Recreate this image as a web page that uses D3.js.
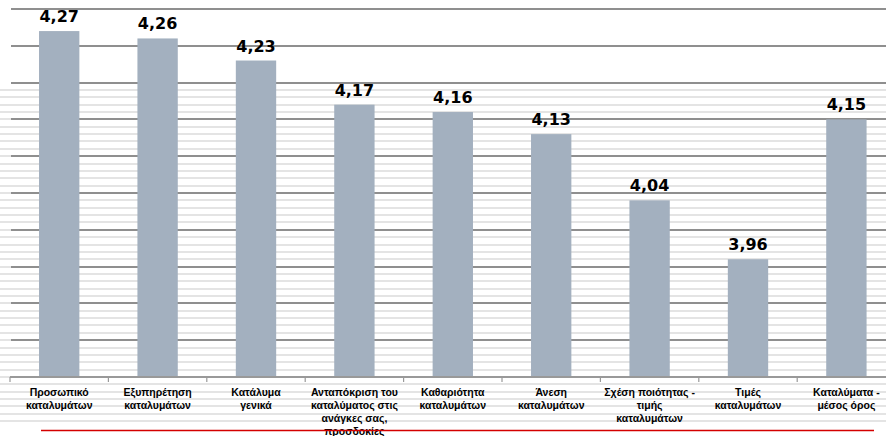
<!DOCTYPE html>
<html>
<head>
<meta charset="utf-8">
<script src="https://cdn.jsdelivr.net/npm/d3@7"></script>
<style>
  body { margin: 0; background: #fff; }
  svg { display: block; }
</style>
</head>
<body>
<div id="chart"></div>
<script>
// κατηγορίες (γραμμές κειμένου ανά κατηγορία)
var categories = [
  ["Προσωπικό", "καταλυμάτων"],
  ["Εξυπηρέτηση", "καταλυμάτων"],
  ["Κατάλυμα", "γενικά"],
  ["Ανταπόκριση του", "καταλύματος στις", "ανάγκες σας,", "προσδοκίες"],
  ["Καθαριότητα", "καταλυμάτων"],
  ["Άνεση", "καταλυμάτων"],
  ["Σχέση ποιότητας -", "τιμής", "καταλυμάτων"],
  ["Τιμές", "καταλυμάτων"],
  ["Καταλύματα -", "μέσος όρος"]
];
var values = [4.27, 4.26, 4.23, 4.17, 4.16, 4.13, 4.04, 3.96, 4.15];
var yDomain = [3.8, 4.3];
var yStep = 0.05;

var width = 886, height = 436;
var svg = d3.select("#chart").append("svg")
  .attr("width", width).attr("height", height);

var keys = categories.map(function(d, i){ return i; });
var x = d3.scaleBand().domain(keys).range([10, 10 + 9 * 98.4])
  .paddingInner(0.59).paddingOuter(0.295);
var y = d3.scaleLinear().domain(yDomain).range([377, 9]);

var gr = d3.formatLocale({decimal: ",", thousands: ".", grouping: [3], currency: ["€", ""]});
var fmt = gr.format(".2f");

// φόντο με λεπτές γραμμές (στρογγυλεμένες για καθαρή απόδοση)
var stripes = d3.range(0, 60).map(function(i){ return 3.6 + i * 0.01; })
  .filter(function(v){ return y(v) > -2 && y(v) < 428; });
svg.append("g").selectAll("rect").data(stripes).enter().append("rect")
  .attr("x", 0).attr("width", width)
  .attr("y", function(d){ return Math.round(y(d)) - 1; })
  .attr("height", 2)
  .attr("fill", "#e4e4e4")
  .attr("shape-rendering", "crispEdges");

// κύριες γραμμές πλέγματος
var grid = d3.range(1, 11).map(function(i){ return yDomain[0] + i * yStep; });
svg.append("g").selectAll("rect").data(grid).enter().append("rect")
  .attr("x", 11).attr("width", width - 11)
  .attr("y", function(d){ return Math.round(y(d)) - 1; })
  .attr("height", 2)
  .attr("fill", "#8f8f8f")
  .attr("shape-rendering", "crispEdges");

// μπάρες
svg.append("g").selectAll("rect").data(values).enter().append("rect")
  .attr("x", function(d, i){ return x(i); })
  .attr("y", function(d){ return y(d); })
  .attr("width", x.bandwidth())
  .attr("height", function(d){ return y(yDomain[0]) - y(d); })
  .attr("fill", "#a3b0bf");

// άξονας x
var axisY = Math.round(y(yDomain[0]));
svg.append("rect")
  .attr("x", 10).attr("width", width - 10)
  .attr("y", axisY - 1).attr("height", 2)
  .attr("fill", "#999")
  .attr("shape-rendering", "crispEdges");
var step = x.step();
var tickX = d3.range(0, 10).map(function(i){ return 10 + i * step; });
svg.append("g").selectAll("line").data(tickX).enter().append("line")
  .attr("x1", function(d){ return d; }).attr("x2", function(d){ return d; })
  .attr("y1", axisY).attr("y2", axisY + 5)
  .attr("stroke", "#999").attr("stroke-width", 1.2);

// τιμές
svg.append("g").selectAll("text").data(values).enter().append("text")
  .attr("x", function(d, i){ return x(i) + x.bandwidth() / 2; })
  .attr("y", function(d){ return y(d) - 9; })
  .attr("text-anchor", "middle")
  .attr("font-family", "DejaVu Sans, sans-serif")
  .attr("font-weight", "bold")
  .attr("font-size", 16)
  .attr("fill", "#000")
  .text(function(d){ return fmt(d); });

// ετικέτες κατηγοριών
var lab = svg.append("g").selectAll("text").data(categories).enter().append("text")
  .attr("x", function(d, i){ return x(i) + x.bandwidth() / 2; })
  .attr("y", 396)
  .attr("text-anchor", "middle")
  .attr("font-family", "Liberation Sans, Arial, sans-serif")
  .attr("font-weight", "bold")
  .attr("font-size", 10.5)
  .attr("fill", "#000");
lab.selectAll("tspan").data(function(d){ return d; }).enter().append("tspan")
  .attr("x", function(){ return d3.select(this.parentNode).attr("x"); })
  .attr("dy", function(d, i){ return i === 0 ? 0 : 13; })
  .text(function(d){ return d; });

// κόκκινη γραμμή στο κάτω μέρος
svg.append("line")
  .attr("x1", 41).attr("x2", 874)
  .attr("y1", 430.5).attr("y2", 430.5)
  .attr("stroke", "#d40000").attr("stroke-width", 1.5);
</script>
</body>
</html>
